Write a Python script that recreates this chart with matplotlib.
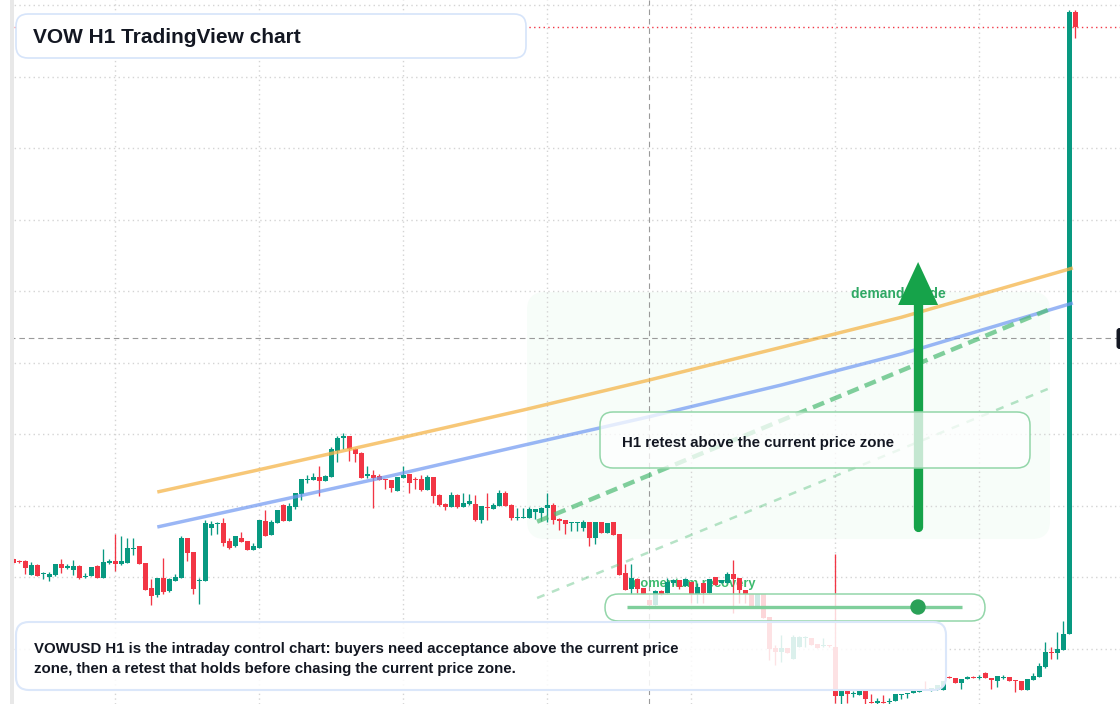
#!/usr/bin/env python
# VOW H1 chart, redrawn with matplotlib

import matplotlib
matplotlib.use("Agg")
import matplotlib.pyplot as plt
import matplotlib.transforms as mtransforms
from matplotlib.patches import FancyBboxPatch, Rectangle, Circle, Polygon
import numpy as np

# hourly bars (prices)
opens = [124.1, 123.93, 123.9, 122.5, 123.5, 122.57, 122.33, 122.5, 123.6, 123.23,
         123.0, 123.43, 122.3, 122.43, 123.4, 122.23, 123.7, 123.9, 123.6, 123.73,
         125.1, 125.4, 123.7, 121.2, 120.53, 122.2, 120.9, 121.93, 122.23, 126.2,
         124.8, 121.9, 121.9, 127.23, 127.63, 127.7, 125.9, 125.43, 126.2, 125.9,
         125.03, 125.23, 127.9, 126.5, 127.73, 129.5, 127.93, 129.27, 130.6, 132.0,
         132.03, 132.3, 131.93, 132.33, 134.9, 136.2, 136.4, 135.13, 134.7, 132.43,
         132.5, 132.4, 132.13, 132.0, 130.93, 132.23, 132.6, 132.1, 132.1, 131.03,
         132.3, 130.53, 129.63, 129.33, 130.53, 129.33, 129.6, 129.63, 128.0, 129.3,
         129.1, 129.4, 130.73, 129.53, 128.2, 128.23, 128.23, 128.8, 128.7, 129.2,
         129.53, 128.13, 128.0, 127.7, 127.7, 127.2, 127.8, 126.23, 127.8, 126.73,
         127.8, 126.6, 122.7, 121.07, 122.07, 121.2, 120.0, 119.53, 120.9, 120.7,
         121.7, 122.0, 121.4, 121.83, 120.63, 121.67, 120.73, 122.27, 121.7, 121.67,
         122.6, 122.17, 121.0, 120.63, 119.4, 120.63, 118.3, 115.2, 114.83, 115.2,
         114.07, 115.33, 116.2, 116.17, 115.57, 115.4, 115.4, 115.33, 110.4, 110.93,
         110.57, 110.5, 110.93, 109.83, 109.73, 109.77, 109.8, 109.9, 110.47, 110.6,
         110.67, 110.77, 111.1, 110.9, 111.0, 111.0, 112.33, 112.2, 111.67, 112.07,
         112.33, 112.17, 112.73, 112.17, 111.93, 112.23, 112.27, 112.0, 111.93, 111.0,
         112.0, 112.33, 113.33, 114.83, 114.67, 115.0, 116.6, 178.83]
highs = [124.2, 124.03, 124.0, 123.8, 123.57, 122.77, 122.8, 123.6, 124.1, 123.6,
         124.0, 123.5, 122.67, 123.3, 123.47, 125.1, 124.1, 126.6, 126.4, 126.2,
         126.2, 125.4, 123.7, 122.1, 122.2, 124.2, 122.2, 122.6, 126.4, 126.2,
         124.8, 122.2, 128.0, 127.87, 127.83, 128.17, 126.2, 126.4, 126.8, 125.9,
         125.73, 128.0, 129.0, 128.0, 129.0, 129.57, 129.67, 130.7, 132.1, 132.5,
         132.7, 133.4, 132.5, 135.3, 136.43, 136.7, 136.4, 135.2, 134.8, 133.4,
         133.0, 132.6, 132.13, 132.0, 132.3, 133.4, 132.6, 132.33, 132.5, 132.47,
         132.3, 130.63, 129.73, 130.8, 130.63, 130.73, 130.63, 130.53, 129.4, 130.73,
         129.73, 131.03, 130.93, 129.63, 129.2, 129.2, 129.3, 129.1, 129.3, 130.73,
         129.73, 128.23, 128.0, 127.8, 127.8, 127.97, 127.8, 127.8, 127.8, 127.7,
         127.8, 126.6, 123.6, 123.6, 122.17, 121.2, 120.0, 121.0, 120.97, 122.2,
         122.15, 122.0, 122.2, 121.83, 121.67, 121.67, 122.07, 122.27, 122.0, 122.8,
         124.0, 122.17, 121.0, 120.63, 120.63, 120.63, 118.3, 115.5, 116.47, 115.2,
         116.5, 116.4, 116.4, 116.17, 115.57, 116.17, 115.5, 124.6, 110.93, 110.93,
         110.93, 111.1, 110.93, 110.6, 110.17, 110.5, 110.17, 110.57, 110.57, 110.73,
         111.0, 111.1, 111.9, 111.2, 111.5, 111.93, 112.37, 112.2, 112.1, 112.37,
         112.43, 112.5, 112.83, 112.17, 112.43, 112.5, 112.27, 112.0, 111.93, 112.1,
         112.73, 113.67, 115.77, 115.33, 116.83, 117.9, 179.0, 179.0]
lows = [123.6, 123.67, 122.63, 122.5, 122.43, 122.13, 121.93, 122.4, 122.67, 123.07,
        122.47, 122.1, 122.23, 122.43, 122.23, 122.23, 123.6, 122.9, 123.5, 123.73,
        124.5, 123.63, 121.03, 119.53, 120.33, 120.6, 120.83, 121.93, 122.23, 123.93,
        120.63, 119.6, 121.9, 126.5, 126.63, 125.4, 125.13, 125.33, 125.83, 125.03,
        125.03, 125.23, 126.43, 126.5, 127.73, 127.93, 127.93, 129.13, 130.0, 131.73,
        132.03, 130.43, 131.93, 132.27, 133.83, 135.1, 133.93, 133.83, 132.23, 132.23,
        129.23, 132.0, 131.1, 130.83, 130.93, 132.23, 130.73, 131.07, 130.93, 131.03,
        129.73, 129.43, 129.03, 129.33, 129.23, 129.33, 129.53, 127.93, 127.7, 128.0,
        129.1, 129.4, 129.4, 128.0, 128.0, 128.2, 128.23, 128.1, 127.9, 127.8,
        127.6, 127.0, 126.6, 126.9, 126.9, 126.9, 125.43, 125.63, 126.73, 126.73,
        126.53, 122.5, 121.03, 120.63, 120.67, 120.63, 119.53, 119.53, 120.53, 120.7,
        121.5, 121.1, 121.4, 119.7, 119.7, 119.7, 120.73, 121.47, 121.7, 121.67,
        118.7, 119.7, 119.7, 119.4, 119.4, 118.23, 114.0, 113.5, 113.83, 114.73,
        114.07, 115.33, 115.33, 115.5, 115.23, 115.33, 115.33, 109.73, 109.6, 109.67,
        110.27, 110.5, 109.6, 109.67, 109.65, 109.67, 109.65, 109.9, 110.1, 110.17,
        110.67, 110.77, 111.0, 110.9, 111.0, 111.0, 112.2, 111.67, 111.1, 112.07,
        112.17, 112.07, 112.23, 111.1, 111.27, 112.07, 111.93, 110.83, 111.0, 111.0,
        112.0, 112.33, 113.17, 114.07, 114.07, 115.0, 116.6, 176.23]
closes = [123.7, 123.8, 123.23, 123.47, 122.43, 122.67, 122.6, 123.6, 123.23, 123.4,
          123.4, 122.17, 122.43, 123.3, 122.23, 123.8, 123.93, 123.63, 123.9, 125.2,
          125.2, 123.63, 121.03, 120.43, 122.2, 120.83, 122.1, 122.3, 126.2, 124.73,
          121.13, 122.0, 127.7, 127.57, 127.73, 125.73, 125.2, 126.4, 125.83, 125.03,
          125.4, 128.0, 126.43, 127.8, 129.0, 127.93, 129.4, 130.7, 132.1, 132.07,
          132.3, 131.9, 132.4, 135.1, 136.2, 136.4, 135.13, 134.63, 132.23, 132.53,
          132.2, 132.03, 132.0, 131.23, 132.3, 132.5, 131.7, 132.0, 131.03, 132.3,
          130.43, 129.53, 129.33, 130.53, 129.33, 129.7, 129.9, 128.0, 129.4, 129.2,
          129.5, 130.73, 129.4, 128.2, 128.3, 128.33, 129.1, 129.1, 129.2, 129.53,
          128.0, 127.93, 127.6, 127.8, 127.8, 127.8, 126.23, 127.8, 126.73, 127.7,
          126.53, 122.5, 121.03, 122.17, 121.1, 120.63, 119.53, 120.9, 120.63, 121.83,
          122.0, 121.33, 122.07, 120.63, 121.3, 120.73, 122.07, 121.47, 122.0, 122.6,
          122.13, 121.0, 120.63, 119.4, 120.63, 118.23, 115.1, 114.83, 115.2, 114.73,
          116.27, 116.27, 116.27, 115.5, 115.23, 115.43, 115.37, 110.4, 110.93, 110.57,
          110.7, 110.93, 110.07, 109.67, 109.9, 109.67, 109.9, 110.57, 110.57, 110.73,
          111.0, 111.1, 111.0, 111.2, 111.5, 111.93, 112.2, 111.67, 112.1, 112.33,
          112.23, 112.3, 112.23, 112.0, 112.43, 112.33, 111.93, 111.9, 111.0, 112.1,
          112.43, 113.4, 114.83, 114.7, 115.1, 116.6, 178.8, 177.27]

# guide lines (bar index, price)
guide_idx = [24, 40, 63, 85, 106, 128, 148, 176.6]
orange_line = [130.8, 132.9, 136.0, 139.0, 142.0, 145.27, 148.27, 153.2]
blue_line = [127.3, 129.4, 132.43, 135.47, 138.33, 141.5, 144.6, 149.7]
retest_idx = [87.3, 172.4]
retest_upper = [127.83, 149.0]
retest_lower = [120.2, 141.1]

arrow_idx = 150.8
arrow_from, arrow_to = 127.3, 153.8
crosshair_idx, crosshair_price = 106, 146.2
last_price = 177.3
day_ticks = [17, 41, 65, 89, 113, 137, 161]
price_grid = [115.15, 122.3, 129.45, 136.6, 143.75, 150.9, 158.05, 165.2, 172.35, 179.5]

W, H = 1120, 704
UP, DOWN = '#089981', '#f23645'
FONT = ['Liberation Sans', 'DejaVu Sans']


def box(ax, tr, x, y, w, h, r, fc, ec, alpha=1.0, lw=1.2, z=6):
    p = FancyBboxPatch((x, y), w, h, boxstyle="round,pad=0,rounding_size=%g" % r,
                       transform=tr, facecolor=fc, edgecolor='none', alpha=alpha,
                       zorder=z)
    ax.add_patch(p)
    if ec is not None:
        e = FancyBboxPatch((x, y), w, h, boxstyle="round,pad=0,rounding_size=%g" % r,
                           transform=tr, facecolor='none', edgecolor=ec, lw=lw,
                           zorder=z + 0.01)
        ax.add_patch(e)


def main():
    plt.rcParams['font.family'] = FONT
    fig = plt.figure(figsize=(W / 100, H / 100), dpi=100)
    ax = fig.add_axes([0, 0, 1, 1])
    ax.set_xlim(-13.3 / 6, (W - 13.3) / 6)
    ax.set_ylim(180 - H / 10, 180)
    for s in ax.spines.values():
        s.set_visible(False)
    ax.tick_params(length=0, labelbottom=False, labelleft=False)
    ax.set_xticks(day_ticks)
    ax.set_yticks(price_grid)
    ax.set_axisbelow(True)
    ax.grid(color='#d4d4d4', linestyle=(0, (1, 2.4)), linewidth=1)

    # pixel coordinates, origin top left
    pix = mtransforms.Affine2D().scale(1 / W, -1 / H).translate(0, 1) + ax.transAxes

    # shaded projection zone
    box(ax, pix, 527, 292, 523, 247, 18, '#f7fdf9', None, z=0.3)

    # crosshair and last price line
    ax.axvline(crosshair_idx, color='#9a9a9a', lw=0.8, ls=(0, (5, 3.5)), zorder=1.5)
    ax.axhline(crosshair_price, color='#9a9a9a', lw=0.8, ls=(0, (5, 3.5)), zorder=1.5)
    ax.axhline(last_price, color=DOWN, lw=1, ls=(0, (1, 2.4)), zorder=1.6)

    # labels that sit under the candles
    ax.text(851, 298.3, 'demand guide', transform=pix, fontsize=10, fontweight='bold',
            color='#2ea864', zorder=2)
    ax.text(629, 586.7, 'momentum recovery', transform=pix, fontsize=9.3,
            fontweight='bold', color='#3dba6e', zorder=2)

    # candles
    o = np.array(opens)
    h = np.array(highs)
    l = np.array(lows)
    c = np.array(closes)
    idx = np.arange(len(o))
    cols = np.where(c >= o, UP, DOWN)
    ax.vlines(idx, l, h, colors=cols, lw=0.95, zorder=3)
    body = np.maximum(np.abs(c - o), 0.12)
    ax.bar(idx, body, bottom=np.minimum(o, c), width=0.8, color=cols, lw=0, zorder=3.1)

    # moving guides
    ax.plot(guide_idx, orange_line, color='#f5b54a', alpha=0.75, lw=2.5, zorder=4,
            solid_capstyle='butt')
    ax.plot(guide_idx, blue_line, color='#6f98f2', alpha=0.7, lw=2.5, zorder=4,
            solid_capstyle='butt')
    ax.plot(retest_idx, retest_upper, color='#4cbb74', alpha=0.7, lw=3.2,
            ls=(0, (2.7, 1.5)), dash_capstyle='butt', zorder=4)
    ax.plot(retest_idx, retest_lower, color='#4cbb74', alpha=0.4, lw=1.8,
            ls=(0, (3.2, 3.2)), dash_capstyle='butt', zorder=4)

    # demand arrow
    ax.plot([arrow_idx, arrow_idx], [arrow_from, arrow_to - 4.0], color='#16a34a',
            lw=6.7, solid_capstyle='round', zorder=5)
    head = Polygon([[arrow_idx - 3.33, arrow_to - 4.3], [arrow_idx + 3.33, arrow_to - 4.3],
                    [arrow_idx, arrow_to]], closed=True, color='#16a34a', lw=0, zorder=5)
    ax.add_patch(head)

    # retest callout
    box(ax, pix, 600, 412, 430, 56, 13, 'white', '#93d6a9', alpha=0.75, lw=1.1, z=6)
    ax.text(622.4, 447.3, 'H1 retest above the current price zone', transform=pix,
            fontsize=10.8, fontweight='bold', color='#131722', zorder=6.2)

    # momentum bar
    box(ax, pix, 605, 594, 380, 27, 13.5, 'white', '#93d6a9', alpha=0.8, lw=1.1, z=6)
    ax.plot([627, 962], [607, 607], transform=pix, color='#7fcf9b', lw=2.4, zorder=6.2,
            solid_capstyle='butt')
    ax.add_patch(Circle((918, 607), 7, transform=pix, color='#2aa157', zorder=6.3))

    # bottom note
    box(ax, pix, 16, 622, 930, 68, 13, 'white', '#dbe7fa', alpha=0.86, lw=1.5, z=7)
    ax.text(34, 653.3, 'VOWUSD H1 is the intraday control chart: buyers need acceptance '
            'above the current price', transform=pix, fontsize=10.8, fontweight='bold',
            color='#131722', zorder=7.2)
    ax.text(34, 673, 'zone, then a retest that holds before chasing the current price zone.',
            transform=pix, fontsize=10.8, fontweight='bold', color='#131722', zorder=7.2)

    # title
    box(ax, pix, 16, 14, 510, 44, 12, 'white', '#d6e4fa', lw=1.2, z=8)
    ax.text(33, 43.3, 'VOW H1 TradingView chart', transform=pix, fontsize=15,
            fontweight='bold', color='#131722', zorder=8.2)

    # chart frame bits
    ax.add_patch(Rectangle((0, 0), 10, H, transform=pix, color='white', lw=0, zorder=9))
    ax.add_patch(Rectangle((10, 0), 4, H, transform=pix, color='#e8e8e8', lw=0, zorder=9))
    box(ax, pix, 1116.5, 328, 14, 21, 3, '#131722', None, z=9)

    fig.savefig('out.png', dpi=100, facecolor='white')
    plt.close(fig)


if __name__ == '__main__':
    main()
